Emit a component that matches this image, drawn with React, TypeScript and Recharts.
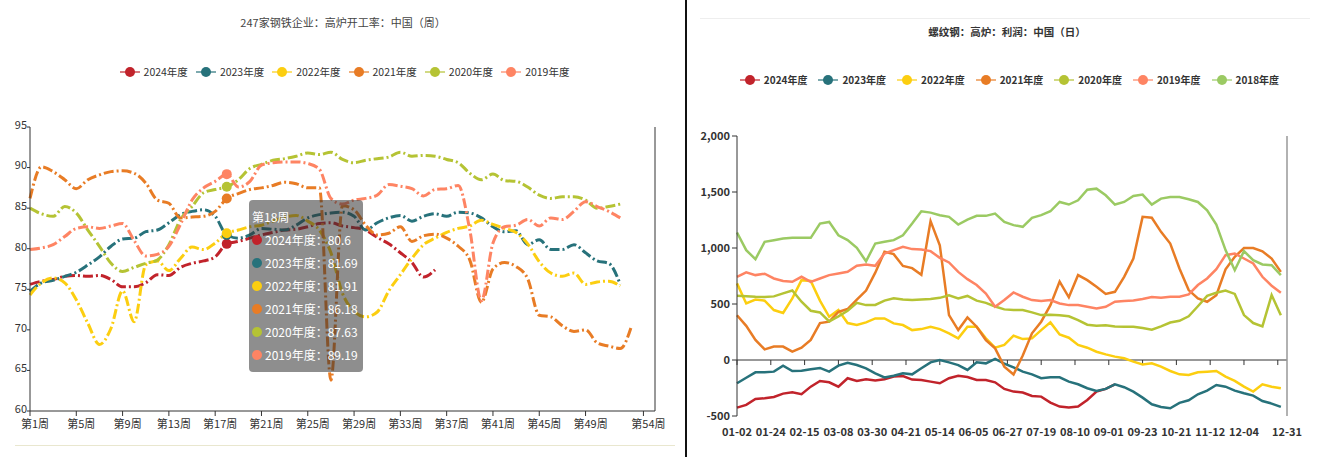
import React from "react";
import { LineChart, Line, XAxis, YAxis, Tooltip, ReferenceLine } from "recharts";

const FONT = '"Noto Sans CJK SC", "Noto Sans", sans-serif';

// left chart: 247 mills blast furnace utilisation (weekly, %)
const weekNo = Array.from({ length: 53 }, (_, i) => i + 1);
const weekTicks = [1, 5, 9, 13, 17, 21, 25, 29, 33, 37, 41, 45, 49, 54];
const yTicksLeft = [60, 65, 70, 75, 80, 85, 90, 95];

const util2024 = [75.6, 76.0, 76.2, 76.6, 76.7, 76.6, 76.7, 76.2, 75.3, 75.3, 75.8, 76.8, 76.7, 77.7, 78.2, 78.5, 79.0, 80.6, 80.9, 81.3, 81.7, 82.0, 82.3, 82.4, 82.7, 83.1, 83.2, 82.8, 82.6, 82.3, 81.4, 80.6, 79.5, 78.3, 76.5, 77.4];
const util2023 = [74.7, 75.8, 76.1, 76.6, 77.1, 78.0, 79.0, 80.3, 81.2, 81.3, 82.1, 82.3, 83.2, 84.2, 84.6, 84.8, 84.0, 81.69, 81.3, 81.7, 82.5, 82.4, 82.3, 82.9, 83.8, 84.2, 84.4, 84.5, 84.0, 82.3, 83.2, 83.8, 84.1, 83.4, 84.0, 84.3, 84.0, 84.5, 84.4, 83.8, 82.7, 82.1, 82.2, 80.5, 81.1, 79.9, 79.9, 80.5, 79.5, 78.5, 78.2, 75.6];
const util2022 = [74.3, 75.8, 76.4, 75.8, 73.7, 70.8, 68.2, 70.2, 74.8, 71.0, 78.0, 78.5, 77.3, 78.8, 80.2, 79.9, 80.7, 81.91, 82.3, 82.7, 82.9, 83.4, 83.9, 84.1, 83.4, 82.3, 79.5, 74.5, 72.3, 71.6, 72.2, 74.8, 76.8, 78.8, 80.5, 81.3, 82.0, 82.5, 82.8, 83.5, 83.0, 82.5, 82.0, 80.6, 78.4, 77.0, 76.6, 77.0, 75.6, 75.9, 76.0, 75.4];
const util2021 = [86.2, 90.1, 89.5, 88.5, 87.4, 88.5, 89.1, 89.5, 89.6, 89.3, 88.1, 86.0, 85.6, 83.8, 83.9, 84.0, 84.6, 86.18, 86.8, 87.3, 87.5, 87.8, 88.2, 88.0, 87.5, 87.5, 63.8, 85.3, 84.8, 82.9, 81.7, 81.9, 82.7, 80.9, 81.6, 81.8, 81.3, 80.3, 78.6, 73.4, 77.5, 78.3, 77.8, 76.3, 71.8, 71.6, 70.5, 69.8, 70.0, 68.4, 68.0, 67.7, 70.6];
const util2020 = [85.0, 84.3, 84.0, 85.2, 84.4, 82.3, 80.3, 78.2, 77.2, 77.7, 78.2, 78.6, 80.5, 83.6, 85.2, 86.9, 87.3, 87.63, 88.5, 89.9, 90.4, 90.9, 91.1, 91.4, 91.8, 91.6, 91.9, 91.0, 90.6, 90.9, 91.1, 91.3, 91.9, 91.4, 91.5, 91.4, 91.0, 90.6, 89.3, 88.5, 89.2, 88.4, 88.3, 87.6, 86.6, 86.2, 86.4, 86.4, 86.0, 85.0, 85.2, 85.5];
const util2019 = [79.9, 80.1, 80.5, 81.5, 82.5, 82.7, 82.5, 82.8, 83.1, 81.0, 79.1, 79.3, 80.3, 83.0, 86.0, 87.5, 88.3, 89.19, 87.6, 88.3, 90.3, 90.6, 90.7, 90.7, 90.5, 89.8, 86.2, 85.5, 86.0, 86.2, 86.6, 87.9, 87.7, 87.4, 86.5, 87.3, 87.4, 87.8, 82.3, 73.6, 80.7, 82.7, 82.9, 83.6, 82.8, 83.8, 83.6, 84.6, 85.8, 85.2, 84.6, 83.8];

// right chart: rebar blast furnace profit (daily, yuan/t), sampled every 6 trading days
const dateTicks = [0, 22, 44, 66, 88, 110, 132, 154, 176, 198, 220, 242, 264, 286, 308, 330, 358];
const dateLabels = ["01-02", "01-24", "02-15", "03-08", "03-30", "04-21", "05-14", "06-05", "06-27", "07-19", "08-10", "09-01", "09-23", "10-21", "11-12", "12-04", "12-31"];
const zeroTicks = [0, 22, 44, 66, 88, 110, 132, 154, 176, 198, 220, 242, 264, 286, 308, 330, 352];
const yTicksRight = [-500, 0, 500, 1000, 1500, 2000];

const profit2024 = [-425, -401, -348, -342, -330, -300, -288, -306, -238, -187, -199, -238, -163, -187, -172, -184, -172, -148, -143, -175, -178, -193, -208, -163, -140, -152, -178, -178, -199, -258, -282, -291, -321, -327, -380, -416, -425, -416, -357, -282, -258, -217];
const profit2023 = [-208, -158, -110, -110, -104, -50, -98, -95, -83, -71, -104, -50, -24, -45, -74, -119, -155, -140, -119, -128, -74, -21, 0, -21, -45, -89, -21, -30, 9, -33, -65, -104, -128, -163, -155, -155, -193, -217, -252, -276, -258, -217, -243, -282, -336, -395, -419, -431, -383, -360, -306, -273, -223, -238, -273, -297, -318, -366, -389, -419];
const profit2022 = [684, 505, 540, 530, 446, 420, 550, 713, 705, 530, 386, 446, 330, 312, 336, 371, 371, 327, 312, 267, 276, 297, 276, 238, 193, 297, 297, 193, 110, 134, 217, 187, 193, 267, 336, 228, 199, 134, 110, 74, 50, 30, 15, -15, -39, -30, -59, -98, -128, -134, -110, -104, -98, -148, -186, -238, -282, -217, -238, -252];
const profit2021 = [400, 305, 180, 95, 120, 120, 74, 110, 180, 330, 342, 430, 455, 540, 620, 780, 966, 945, 840, 820, 760, 1240, 1025, 401, 267, 380, 297, 178, 104, -59, -130, 40, 238, 342, 490, 700, 560, 758, 713, 654, 590, 609, 743, 906, 1278, 1270, 1144, 1040, 817, 624, 550, 520, 579, 810, 921, 1000, 1000, 970, 906, 787];
const profit2020 = [573, 570, 565, 562, 568, 595, 620, 520, 440, 425, 345, 390, 440, 510, 490, 492, 530, 552, 540, 535, 540, 545, 555, 578, 550, 572, 530, 510, 478, 452, 446, 446, 425, 401, 405, 400, 390, 357, 315, 306, 310, 300, 297, 297, 285, 270, 300, 335, 350, 390, 480, 573, 600, 620, 590, 401, 330, 300, 580, 400];
const profit2019 = [743, 782, 758, 770, 728, 705, 698, 743, 698, 728, 758, 773, 787, 841, 853, 841, 951, 981, 1010, 990, 987, 972, 912, 871, 787, 722, 669, 594, 475, 535, 603, 565, 535, 526, 535, 505, 490, 490, 475, 461, 475, 520, 526, 532, 544, 562, 556, 565, 565, 585, 669, 728, 811, 936, 951, 906, 862, 743, 663, 600];
const profit2018 = [1138, 981, 900, 1055, 1070, 1085, 1091, 1091, 1091, 1218, 1233, 1114, 1070, 1001, 882, 1040, 1055, 1070, 1114, 1218, 1328, 1316, 1293, 1278, 1210, 1254, 1287, 1287, 1308, 1233, 1204, 1189, 1269, 1293, 1328, 1411, 1388, 1426, 1520, 1530, 1471, 1388, 1411, 1465, 1477, 1388, 1441, 1456, 1456, 1435, 1411, 1337, 1210, 981, 802, 972, 891, 853, 847, 758];

const utilSeries = [
  { key: "y2024", name: "2024年度", color: "#C1232B", values: util2024 },
  { key: "y2023", name: "2023年度", color: "#27727B", values: util2023 },
  { key: "y2022", name: "2022年度", color: "#FCCE10", values: util2022 },
  { key: "y2021", name: "2021年度", color: "#E87C25", values: util2021 },
  { key: "y2020", name: "2020年度", color: "#B5C334", values: util2020 },
  { key: "y2019", name: "2019年度", color: "#FE8463", values: util2019 },
];

const profitSeries = [
  { key: "y2024", name: "2024年度", color: "#C1232B", values: profit2024 },
  { key: "y2023", name: "2023年度", color: "#27727B", values: profit2023 },
  { key: "y2022", name: "2022年度", color: "#FCCE10", values: profit2022 },
  { key: "y2021", name: "2021年度", color: "#E87C25", values: profit2021 },
  { key: "y2020", name: "2020年度", color: "#B5C334", values: profit2020 },
  { key: "y2019", name: "2019年度", color: "#FE8463", values: profit2019 },
  { key: "y2018", name: "2018年度", color: "#9BCA63", values: profit2018 },
];

const utilRows = weekNo.map((w, i) => {
  const row: any = { week: w };
  utilSeries.forEach((s) => (row[s.key] = s.values[i]));
  return row;
});

const dayIdx = profit2018.map((_, k) => k * 6);
const profitRows = dayIdx.map((d, i) => {
  const row: any = { day: d };
  profitSeries.forEach((s) => (row[s.key] = s.values[i]));
  return row;
});

function SeriesLegend({ items, bold, fontSize, gap }: any) {
  return (
    <div style={{ display: "flex", justifyContent: "center", alignItems: "center", gap }}>
      {items.map((s: any) => (
        <div key={s.key} style={{ display: "flex", alignItems: "center" }}>
          <svg width={20} height={12} style={{ marginRight: 4 }}>
            <line x1={0} y1={6} x2={20} y2={6} stroke={s.color} strokeWidth={2} opacity={0.6} />
            <circle cx={10} cy={6} r={5} fill={s.color} />
          </svg>
          <span style={{ fontSize, color: "#333", fontWeight: bold ? 700 : 400 }}>{s.name}</span>
        </div>
      ))}
    </div>
  );
}

function WeekTip({ active, payload, label }: any) {
  if (!active || !payload || !payload.length) return null;
  return (
    <div
      style={{
        background: "rgba(50,50,50,0.55)",
        borderRadius: 4,
        padding: "5px 5px 6px 3px",
        color: "#fff",
        fontSize: 12,
        lineHeight: "23px",
        fontFamily: FONT,
        whiteSpace: "nowrap",
      }}
    >
      <div>第{label}周</div>
      {payload.map((p: any) => (
        <div key={p.dataKey} style={{ display: "flex", alignItems: "center" }}>
          <span style={{ display: "inline-block", width: 10, height: 10, borderRadius: 5, background: p.color, marginRight: 3 }} />
          {p.name}：{p.value}
        </div>
      ))}
    </div>
  );
}

export default function App() {
  return (
    <div style={{ position: "absolute", left: 0, top: 0, width: 1318, height: 457, background: "#fff", overflow: "hidden", fontFamily: FONT }}>
      {/* left title + legend */}
      <div style={{ position: "absolute", left: 0, top: 14, width: 686, textAlign: "center", fontSize: 11, color: "#444" }}>
        247家钢铁企业：高炉开工率：中国（周）
      </div>
      <div style={{ position: "absolute", left: 0, top: 64, width: 689 }}>
        <SeriesLegend items={utilSeries} fontSize={10.5} gap={8} />
      </div>

      <div style={{ position: "absolute", left: 0, top: 0 }}>
        <LineChart width={680} height={457} data={utilRows} margin={{ top: 127, right: 25, bottom: 16, left: 0 }}>
          <XAxis
            dataKey="week"
            type="number"
            domain={[1, 55]}
            ticks={weekTicks}
            tickFormatter={(v) => `第${v}周`}
            interval={0}
            height={30}
            stroke="#333"
            tickSize={5}
            tickMargin={4}
            tick={{ fontSize: 11, fill: "#333", dx: 5 }}
          />
          <YAxis
            domain={[60, 95]}
            ticks={yTicksLeft}
            width={30}
            stroke="#333"
            tickSize={3}
            tickMargin={0}
            tick={{ fontSize: 11, fill: "#333", dy: -2 }}
          />
          <ReferenceLine x={55} stroke="#333" />
          {utilSeries.map((s) => (
            <Line
              key={s.key}
              dataKey={s.key}
              name={s.name}
              type="monotone"
              stroke={s.color}
              strokeWidth={3}
              strokeDasharray="10 3 2 3"
              dot={false}
              activeDot={{ r: 5, strokeWidth: 0, fill: s.color }}
              isAnimationActive={false}
            />
          ))}
          <Tooltip
            content={<WeekTip />}
            defaultIndex={17}
            active
            cursor={false}
            position={{ x: 249, y: 200 }}
            isAnimationActive={false}
            wrapperStyle={{ outline: "none" }}
          />
        </LineChart>
      </div>

      {/* faint rule under the left chart */}
      <div style={{ position: "absolute", left: 15, top: 445, width: 660, height: 1, background: "#e9e7cf" }} />

      {/* separator */}
      <div style={{ position: "absolute", left: 685, top: 0, width: 2, height: 457, background: "#111" }} />

      {/* right title + legend */}
      <div style={{ position: "absolute", left: 700, top: 18, width: 610, height: 1, background: "#eee" }} />
      <div style={{ position: "absolute", left: 690, top: 24, width: 634, textAlign: "center", fontSize: 10.5, color: "#333", fontWeight: 700 }}>
        螺纹钢：高炉：利润：中国（日）
      </div>
      <div style={{ position: "absolute", left: 690, top: 72, width: 639 }}>
        <SeriesLegend items={profitSeries} fontSize={10} gap={11} bold />
      </div>

      <div style={{ position: "absolute", left: 690, top: 0 }}>
        <LineChart width={628} height={457} data={profitRows} margin={{ top: 136, right: 31, bottom: 17, left: 0 }}>
          <XAxis
            dataKey="day"
            type="number"
            domain={[0, 358]}
            ticks={dateTicks}
            tickFormatter={(v) => dateLabels[dateTicks.indexOf(v)]}
            interval={0}
            height={24}
            axisLine={false}
            tickLine={false}
            tickMargin={6}
            tick={{ fontSize: 11, fill: "#333", fontWeight: 700 }}
          />
          <YAxis
            domain={[-500, 2000]}
            ticks={yTicksRight}
            width={47}
            stroke="#333"
            tickSize={5}
            tickMargin={2}
            tickFormatter={(v) => v.toLocaleString("en-US")}
            tick={{ fontSize: 11, fill: "#333", fontWeight: 700 }}
          />
          <ReferenceLine y={0} stroke="#333" />
          {zeroTicks.map((t) => (
            <ReferenceLine key={t} segment={[{ x: t, y: 0 }, { x: t, y: -45 }]} stroke="#333" />
          ))}
          <ReferenceLine x={358} stroke="#999" strokeWidth={1.5} />
          {profitSeries.map((s) => (
            <Line
              key={s.key}
              dataKey={s.key}
              name={s.name}
              type="linear"
              stroke={s.color}
              strokeWidth={2.5}
              dot={false}
              isAnimationActive={false}
            />
          ))}
        </LineChart>
      </div>
    </div>
  );
}
